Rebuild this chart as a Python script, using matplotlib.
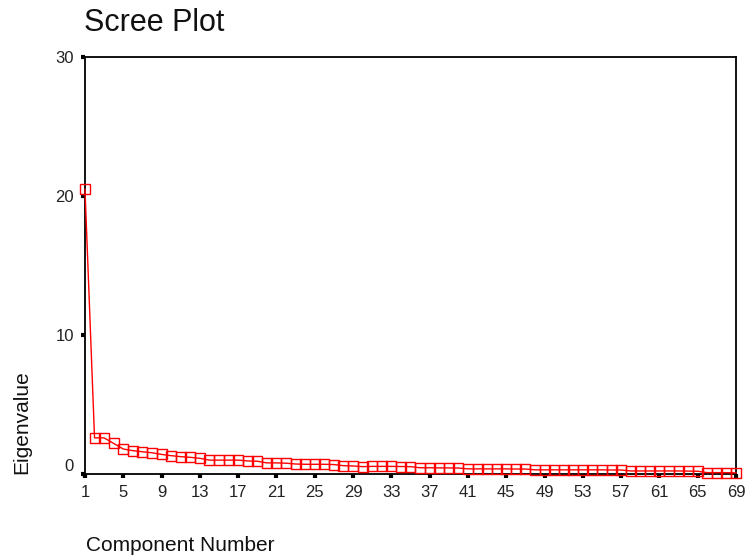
import matplotlib
matplotlib.use("Agg")
import matplotlib.pyplot as plt
import numpy as np

plt.rcParams['font.family'] = ['Liberation Sans', 'DejaVu Sans']

# eigenvalues, components 1..69
components = np.arange(1, 70)
eigenvalues = [
    20.5, 2.6, 2.6, 2.2, 1.8, 1.68, 1.6, 1.53, 1.41, 1.32,
    1.25, 1.2, 1.13, 1.0, 1.0, 1.0, 1.0, 0.94, 0.92, 0.8,
    0.8, 0.78, 0.72, 0.7, 0.7, 0.7, 0.68, 0.6, 0.58, 0.53,
    0.55, 0.55, 0.55, 0.54, 0.53, 0.45, 0.45, 0.44, 0.44, 0.43,
    0.37, 0.37, 0.37, 0.37, 0.37, 0.36, 0.36, 0.3, 0.3, 0.3,
    0.3, 0.3, 0.3, 0.3, 0.3, 0.29, 0.29, 0.22, 0.22, 0.22,
    0.22, 0.22, 0.22, 0.21, 0.2, 0.1, 0.1, 0.1, 0.08,
]
xticks = list(range(1, 70, 4))
yticks = [0, 10, 20, 30]

fig = plt.figure(figsize=(7.46, 5.58), dpi=100)
ax = fig.add_axes([0.1139, 0.1505, 0.8727, 0.7473])

ax.plot(components, eigenvalues, color='#ff0000', lw=1,
        marker='s', ms=7, mfc='none', mec='#ff0000', mew=1, clip_on=False, zorder=3)

ax.set_xlim(1, 69)
ax.set_ylim(0, 30)
ax.set_xticks(xticks)
ax.set_yticks(yticks)
ax.tick_params(direction='out', length=3, width=3, labelsize=12, pad=5, color='black',
               labelcolor='#222222')
for s in ax.spines.values():
    s.set_linewidth(1.3)
    s.set_color('black')
ax.get_yticklabels()[0].set_verticalalignment('bottom')

fig.text(0.113, 0.958, 'Scree Plot', fontsize=22, ha='left', va='center', color='#111111')
fig.text(0.115, 0.023, 'Component Number', fontsize=15, ha='left', va='center', color='#111111')
fig.text(0.029, 0.1505, 'Eigenvalue', fontsize=15, rotation=90, ha='center', va='bottom',
         color='#111111')

fig.savefig('out.png', dpi=100)
